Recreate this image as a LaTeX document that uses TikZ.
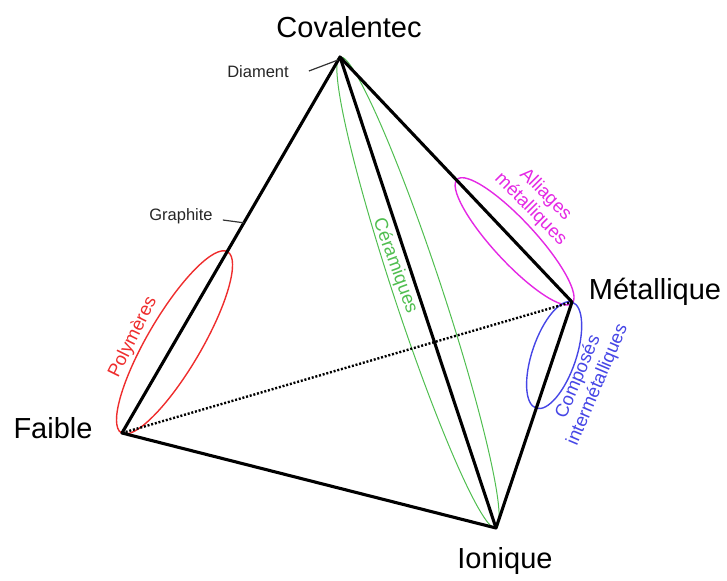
\documentclass[tikz,border=0pt]{standalone}
\usepackage{fontspec}
\setmainfont{Liberation Sans}
\usetikzlibrary{calc}
\definecolor{cred}{RGB}{238,45,45}
\definecolor{cgreen}{RGB}{80,190,80}
\definecolor{cmag}{RGB}{228,40,228}
\definecolor{cblue}{RGB}{70,70,230}
\tikzset{
  edge/.style={line width=3.1pt, line cap=round, line join=round},
  dotedge/.style={line width=2.4pt, dash pattern=on 2pt off 1.8pt},
  vlabel/.style={font=\fontsize{29}{32}\selectfont, inner sep=0pt},
  slabel/.style={font=\fontsize{16.5}{18}\selectfont, inner sep=0pt, text=black!85},
  clabel/.style={font=\fontsize{18.5}{21}\selectfont, inner sep=0pt, align=center},
  leader/.style={line width=1.2pt, black!80},
  ring/.style={line width=1.4pt}
}
\begin{document}
\begin{tikzpicture}[x=1pt,y=-1pt]
\useasboundingbox (0,0) rectangle (727,580);
% vertices
\coordinate (C) at (340,57);
\coordinate (F) at (122,433);
\coordinate (I) at (496,528);
\coordinate (M) at (572,302);
% points on edges
\coordinate (P) at ($(C)!0.518!(F)$);
\coordinate (A) at ($(C)!0.505!(M)$);
\coordinate (Q) at ($(M)!0.47!(I)$);
\coordinate (G) at ($(C)!0.441!(F)$);
% ellipses
\draw[cred, ring, rotate around={59.6:($(F)!0.5!(P)$)}] ($(F)!0.5!(P)$) ellipse [x radius=105pt, y radius=27pt];
\draw[cgreen, line width=1pt, rotate around={-71.7:($(C)!0.5!(I)$)}] ($(C)!0.5!(I)$) ellipse [x radius=248pt, y radius=24pt];
\draw[cmag, ring, rotate around={-47.2:($(A)!0.5!(M)$)}] ($(A)!0.5!(M)$) ellipse [x radius=84.5pt, y radius=21pt];
\draw[cblue, ring, rotate around={71.2:($(M)!0.5!(Q)$)}] ($(M)!0.5!(Q)$) ellipse [x radius=56pt, y radius=22pt];
% edges
\draw[dotedge] (F) -- (M);
\draw[edge] (C) -- (F) -- (I) -- (M) -- cycle;
\draw[edge] (C) -- (I);
% vertex labels
\node[vlabel] (lc) at (349,27) {Covalentec};
\node[vlabel] (lf) at (53,428) {Faible};
\node[vlabel] (li) at (505,561) {Ionique};
\node[vlabel] (lm) at (655,292) {Métallique};
% small labels
\node[slabel] (ld) at (258,72) {Diament};
\node[slabel] (lg) at (181,216) {Graphite};
\draw[leader] ($(ld.east)+(20,-1)$) -- ($(C)+(-2,3)$);
\draw[leader] ($(lg.east)+(10,4)$) -- (G);
% class labels
\node[clabel, text=cred, rotate=63.7] (tp) at (133,337) {Polymères};
\node[clabel, text=cgreen, rotate=-70] (tc) at (395,266) {Céramiques};
\node[clabel, text=cmag, rotate=-45] (ta) at (538,202) {Alliages\\métalliques};
\node[clabel, text=cblue, rotate=67] (tb) at (588,381) {Composés\\intermétalliques};
\end{tikzpicture}
\end{document}
